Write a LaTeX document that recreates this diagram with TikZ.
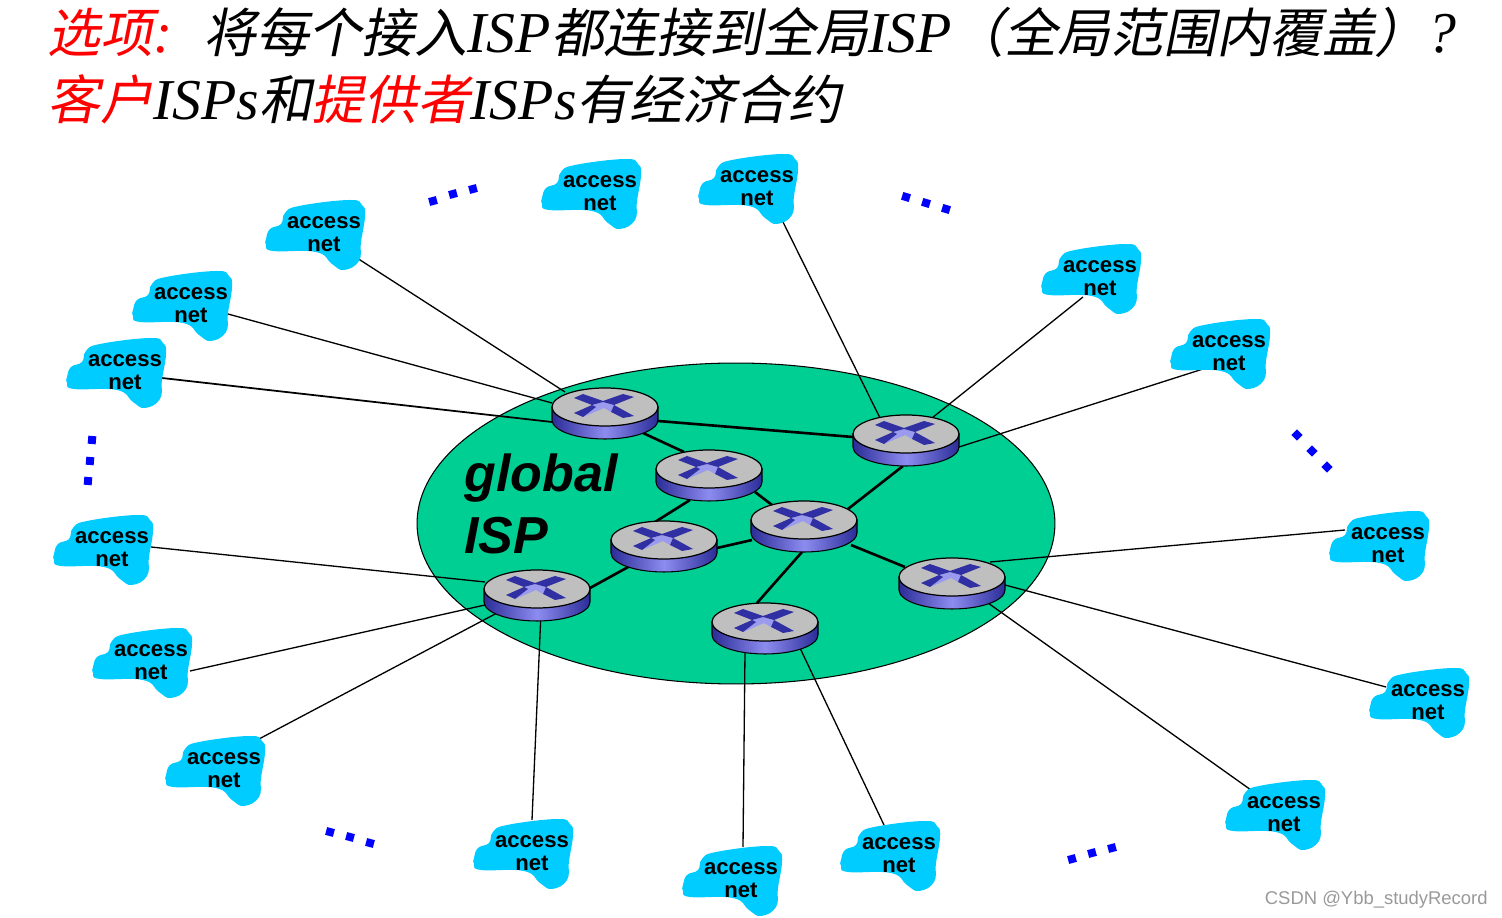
\documentclass[tikz,border=0pt]{standalone}
\usepackage{fontspec}
\setmainfont{Liberation Serif}
\setsansfont{Liberation Sans}
\newfontfamily\cjkfont[Scale=0.915,FakeSlant=0.2]{Noto Sans CJK SC}
\usepackage{tikz}
\usetikzlibrary{shapes.geometric, calc}

\definecolor{ispgreen}{HTML}{00CF93}
\definecolor{netblue}{HTML}{00CCFF}
\definecolor{routerdark}{HTML}{2C2C98}
\definecolor{routerlight}{HTML}{8C8CF0}
\definecolor{crossdark}{HTML}{3030A4}
\definecolor{crosslight}{HTML}{9A9AEE}

\pgfdeclarelayer{back}
\pgfdeclarelayer{wires}
\pgfsetlayers{back,wires,main}

\newcommand{\accessnet}[3]{%
  \fill[netblue, shift={(#2,#3-2)}] plot[smooth cycle, tension=0.75] coordinates {(-58,7) (-54,-3) (-43,-8) (-39,-19) (-25,-26) (25,-32) (38,-27) (41,-16) (37,10) (35,29) (20,38) (8,32) (-8,20) (-51,19) (-58,13)};
  \node[netlabel] (#1) at (#2,#3) {access\\net};
}
\newcommand{\router}[3]{%
  \node[routerhub] (#1) at (#2,#3) {};
  \begin{scope}[shift={(#2,#3)}]
    \draw[black, line width=0.6pt, left color=routerdark, right color=routerdark, middle color=routerlight] (-53,-6) -- (-53,7) arc[start angle=180, end angle=0, x radius=53, y radius=19] -- (53,-6) -- cycle;
    \draw[black, line width=0.7pt, fill=black!25] (0,-6) ellipse[x radius=53, y radius=19];
    \fill[crosslight] (-13,-8) -- (-2,-11) -- (9,-8) -- (6,-1) -- (-1,-5) -- (-22,4) -- (-9,-6) -- cycle;
    \fill[crossdark] (-31,-15) -- (-22,-19) -- (-2,-12) -- (18,-19) -- (29,-16) -- (9,-8) -- (-2,-11) -- (-13,-8) -- cycle;
    \fill[crossdark] (9,-8) -- (29,3) -- (18,5) -- (6,-1) -- cycle;
    \fill[crossdark] (-31,0) -- (-13,-8) -- (-9,-6) -- (-22,4) -- cycle;
  \end{scope}
}

\begin{document}
\begin{tikzpicture}[
    x=0.02cm, y=-0.02cm,
    netlabel/.style={inner sep=0pt, align=center, font=\sffamily\bfseries\fontsize{12.6}{12.7}\selectfont},
    routerhub/.style={inner sep=0pt, minimum size=0pt},
    titleline/.style={anchor=base west, inner sep=0pt, font=\itshape\fontsize{32.9}{36}\selectfont},
    dotmark/.style={fill=blue, inner sep=0pt, minimum size=0.16cm},
    thinlink/.style={black, line width=0.75pt},
    thicklink/.style={black, line width=1.5pt},
]
\useasboundingbox (0,0) rectangle (1502,918);
% Title
\node[titleline] (title1) at (47,53) {\textcolor{red}{{\cjkfont 选项}:}\hspace{17.5pt}{\cjkfont 将每个接入}ISP{\cjkfont 都连接到全局}ISP{\cjkfont （全局范围内覆盖）}?};
\node[titleline] (title2) at (47,120) {\textcolor{red}{\cjkfont 客户}ISPs{\cjkfont 和}\textcolor{red}{\cjkfont 提供者}ISPs{\cjkfont 有经济合约}};
% Global ISP
\begin{pgfonlayer}{back}
\node[ellipse, draw=black, line width=0.6pt, fill=ispgreen, minimum width=12.76cm, minimum height=6.42cm] (gisp) at (736,523.5) {};
\end{pgfonlayer}
\node[anchor=base west, inner sep=0pt, font=\sffamily\bfseries\itshape\fontsize{29.6}{35}\selectfont] (ispglobal) at (464,492) {global};
\node[anchor=base west, inner sep=0pt, font=\sffamily\bfseries\itshape\fontsize{29.6}{35}\selectfont] (ispname) at (464,554) {ISP};
% Routers
\router{rA}{605}{413}
\router{rB}{906}{440}
\router{rC}{709}{475}
\router{rD}{804}{526}
\router{rE}{952}{583}
\router{rF}{765}{628}
\router{rG}{537}{595}
\router{rH}{664}{546}
% Access nets
\accessnet{net1}{324}{234}
\accessnet{net2}{191}{305}
\accessnet{net3}{125}{372}
\accessnet{net4}{757}{188}
\accessnet{net5}{1100}{278}
\accessnet{net6}{1229}{353}
\accessnet{net7}{1388}{545}
\accessnet{net8}{1428}{702}
\accessnet{net9}{1284}{814}
\accessnet{net10}{899}{855}
\accessnet{net11}{741}{880}
\accessnet{net12}{532}{853}
\accessnet{net13}{224}{770}
\accessnet{net14}{151}{662}
\accessnet{net15}{112}{549}
\accessnet{net16}{600}{193}
% Dots
\node[dotmark, rotate=15] (dotA1) at (433,201) {};
\node[dotmark, rotate=15] (dotA2) at (453,194) {};
\node[dotmark, rotate=15] (dotA3) at (473,189) {};
\node[dotmark, rotate=-17] (dotB1) at (906,197) {};
\node[dotmark, rotate=-17] (dotB2) at (926,203) {};
\node[dotmark, rotate=-17] (dotB3) at (946,209) {};
\node[dotmark, rotate=-45] (dotC1) at (1297,435) {};
\node[dotmark, rotate=-45] (dotC2) at (1312,451) {};
\node[dotmark, rotate=-45] (dotC3) at (1327,467) {};
\node[dotmark, rotate=-5] (dotD1) at (92,440) {};
\node[dotmark, rotate=-5] (dotD2) at (90,461) {};
\node[dotmark, rotate=-5] (dotD3) at (88,481) {};
\node[dotmark, rotate=-15] (dotE1) at (330,832) {};
\node[dotmark, rotate=-15] (dotE2) at (350,837) {};
\node[dotmark, rotate=-15] (dotE3) at (370,843) {};
\node[dotmark, rotate=15] (dotF1) at (1072,859) {};
\node[dotmark, rotate=15] (dotF2) at (1092,853) {};
\node[dotmark, rotate=15] (dotF3) at (1112,848) {};
% Watermark
\node[anchor=base east, inner sep=0pt, text=black!40, font=\sffamily\fontsize{10.5}{13}\selectfont] (mark) at (1488,904) {CSDN @Ybb\_studyRecord};
% Links
\begin{pgfonlayer}{wires}
\draw[thinlink] ($(net1)+(33,24)$) -- ($(rA)+(-40,-21)$);
\draw[thinlink] ($(net2)+(37,9)$) -- ($(rA)+(-53,-10)$);
\draw[thinlink, line width=1pt] ($(net3)+(37,6)$) -- ($(rA)+(-53,9)$);
\draw[thinlink] ($(net4)+(26,34)$) -- ($(rB)+(-26,-22)$);
\draw[thinlink] ($(net5)+(-17,19)$) -- ($(rB)+(26,-22)$);
\draw[thinlink] ($(net6)+(-26,16)$) -- ($(rB)+(53,7)$);
\draw[thinlink] ($(net7)+(-43,-15)$) -- ($(rE)+(38,-21)$);
\draw[thinlink] ($(net8)+(-42,-15)$) -- ($(rE)+(53,2)$);
\draw[thinlink] ($(net9)+(-33,-24)$) -- ($(rE)+(36,20)$);
\draw[thinlink] ($(net10)+(-15,-30)$) -- ($(rF)+(35,20)$);
\draw[thinlink] ($(net11)+(2,-33)$) -- ($(rF)+(-20,24)$);
\draw[thinlink] ($(net12)+(0,-33)$) -- ($(rG)+(4,17)$);
\draw[thinlink] ($(net13)+(35,-31)$) -- ($(rG)+(-40,18)$);
\draw[thinlink] ($(net14)+(39,9)$) -- ($(rG)+(-52,10)$);
\draw[thinlink] ($(net15)+(39,-2)$) -- ($(rG)+(-52,-13)$);
\draw[thicklink] ($(rA)+(53,8)$) -- ($(rB)+(-53,-3)$);
\draw[thicklink] ($(rA)+(38,20)$) -- ($(rC)+(-25,-23)$);
\draw[thicklink] ($(rC)+(46,17)$) -- ($(rD)+(-32,-21)$);
\draw[thicklink] ($(rD)+(44,-17)$) -- ($(rB)+(-3,26)$);
\draw[thicklink] ($(rD)+(47,19)$) -- ($(rE)+(-47,-16)$);
\draw[thicklink] ($(rD)+(-52,14)$) -- ($(rH)+(53,2)$);
\draw[thicklink] ($(rC)+(-19,25)$) -- ($(rH)+(-9,-24)$);
\draw[thicklink] ($(rH)+(-34,20)$) -- ($(rG)+(53,-7)$);
\draw[thicklink] ($(rD)+(-2,26)$) -- ($(rF)+(-8,-25)$);
\end{pgfonlayer}
\end{tikzpicture}
\end{document}
